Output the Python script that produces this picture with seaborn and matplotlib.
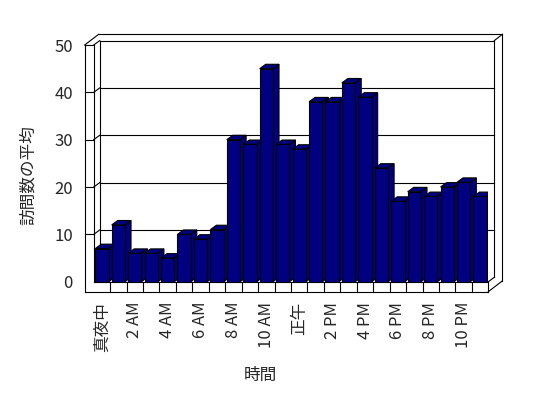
import matplotlib
matplotlib.use('Agg')
import matplotlib.pyplot as plt
import seaborn as sns
from matplotlib.patches import Polygon

# Average visits per hour
hours = list(range(24))
visits = [7, 12, 6, 6, 5, 10, 9, 11, 30, 29, 45, 29, 28, 38, 38, 42, 39, 24, 17, 19, 18, 20, 21, 18]
tick_hours = [0, 2, 4, 6, 8, 10, 12, 14, 16, 18, 20, 22]
tick_labels = ['真夜中', '2 AM', '4 AM', '6 AM', '8 AM', '10 AM', '正午',
               '2 PM', '4 PM', '6 PM', '8 PM', '10 PM']
y_ticks = [0, 10, 20, 30, 40, 50]

BAR_COLOR = '#000080'
W = 0.81             # bar width (category units)
DX, DY = 0.365, 0.93  # depth offset of bars / back wall
OX, OY = 0.85, 2.26   # outer depth of the wall slab
WALL = 0.55          # left wall thickness
FLOOR = 2.1          # floor slab thickness
LW = 0.8

sns.set_style('white')
plt.rcParams['font.family'] = ['Noto Sans CJK JP', 'DejaVu Sans']

fig = plt.figure(figsize=(5.48, 3.98), dpi=100)
ax = fig.add_axes([0.1710, 0.2922, 0.7201, 0.5947])

sns.barplot(x=hours, y=visits, color=BAR_COLOR, saturation=1, width=W,
            edgecolor='black', linewidth=LW, ax=ax)


def seg(p, q, z=1):
    ax.plot([p[0], q[0]], [p[1], q[1]], color='black', lw=LW, zorder=z,
            clip_on=False, solid_capstyle='projecting')


x0, x1, y0, y1 = -0.5, len(hours) - 0.5, y_ticks[0], y_ticks[-1]
xl = x0 - WALL
yf = y0 - FLOOR

# walls and floor
for y in y_ticks[1:-1]:
    seg((xl, y), (x0, y))
    seg((x0, y), (x0 + DX, y + DY))
    seg((x0 + DX, y + DY), (x1 + DX, y + DY))
seg((xl, y1), (x0, y1))
seg((x0, y1), (x0 + DX, y1 + DY))
seg((x0 + DX, y1 + DY), (x1 + DX, y1 + DY))
seg((x0 + DX, y0 + DY), (x0 + DX, y1 + DY))
seg((x1 + DX, y0 + DY), (x1 + DX, y1 + DY))
seg((xl, y1), (xl + OX, y1 + OY))
seg((xl + OX, y1 + OY), (x1 + OX, y1 + OY))
seg((x1 + DX, y1 + DY), (x1 + OX, y1 + OY))
seg((x1 + OX, y1 + OY), (x1 + OX, yf + OY))
seg((x1, yf), (x1 + OX, yf + OY))
seg((xl, yf), (xl, y1))
seg((x0, y0), (x0, y1))
seg((xl, yf), (x1, yf))
seg((x0, y0), (x1, y0))
seg((x1, yf), (x1, y0))
seg((x1, y0), (x1 + DX, y0 + DY))
for b in hours[:-1]:
    seg((b + 0.5, yf), (b + 0.5, y0))

# 3D sides and tops of bars
for i, bar in enumerate(ax.patches):
    a = bar.get_x()
    r = a + bar.get_width()
    v = bar.get_height()
    z = 2 + 2 * i
    side = Polygon([(r, 0), (r + DX, DY), (r + DX, v + DY), (r, v)],
                   facecolor=BAR_COLOR, edgecolor='black', lw=LW, zorder=z)
    top = Polygon([(a, v), (r, v), (r + DX, v + DY), (a + DX, v + DY)],
                  facecolor=BAR_COLOR, edgecolor='black', lw=LW, zorder=z)
    ax.add_patch(side)
    ax.add_patch(top)
    bar.set_zorder(z + 1)

ax.set_xlim(x0, x1)
ax.set_ylim(y0, y1)
for s in ax.spines.values():
    s.set_visible(False)
ax.patch.set_visible(False)

ax.set_yticks(y_ticks)
ax.tick_params(axis='y', length=0, pad=15, labelsize=12)
ax.set_xticks(tick_hours)
ax.set_xticklabels(tick_labels, rotation=90)
ax.tick_params(axis='x', length=0, pad=14.4, labelsize=12)
ax.set_xlabel('')
ax.set_ylabel('')

fig.text(260 / 548, 1 - 375 / 398, '時間', ha='center', va='center', fontsize=12)
fig.text(28 / 548, 1 - 175 / 398, '訪問数の平均', rotation=90,
         ha='center', va='center', fontsize=12)

fig.savefig('out.png', dpi=100)
